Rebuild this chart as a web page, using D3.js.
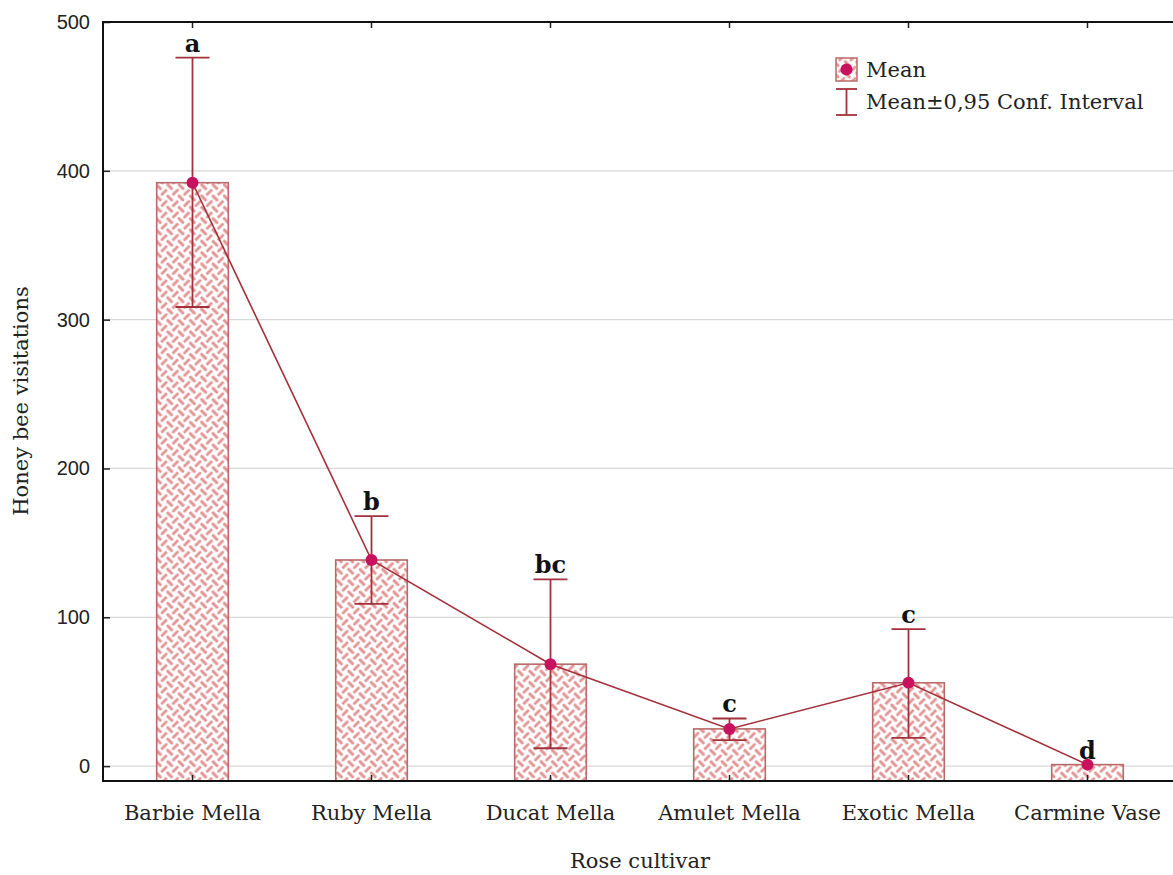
<!DOCTYPE html>
<html>
<head>
<meta charset="utf-8">
<script src="https://cdn.jsdelivr.net/npm/d3@7"></script>
<style>
  body { margin: 0; background: #fff; }
  svg { display: block; }
</style>
</head>
<body>
<div id="chart"></div>
<script>
// values
const cultivars = ["Barbie Mella", "Ruby Mella", "Ducat Mella", "Amulet Mella", "Exotic Mella", "Carmine Vase"];
const means = [392, 138.5, 68.5, 25, 56, 1];
const ciLow = [308.5, 109, 12, 17.5, 19, 1];
const ciHigh = [476, 168, 125.5, 32, 92, 1];
const groups = ["a", "b", "bc", "c", "c", "d"];
const yTicks = [0, 100, 200, 300, 400, 500];

const width = 1173, height = 875;
const margin = { left: 103, top: 22, right: -4, bottom: 94 };

const svg = d3.select("#chart").append("svg")
    .attr("width", width)
    .attr("height", height);

// basket weave fill used for the bars (rotated so dashes run diagonally)
const defs = svg.append("defs");
const pat = defs.append("pattern")
    .attr("id", "weave")
    .attr("patternUnits", "userSpaceOnUse")
    .attr("width", 16).attr("height", 16)
    .attr("patternTransform", "rotate(45)");
pat.append("rect").attr("width", 16).attr("height", 16).attr("fill", "#fff");
// one dash per cell: horizontal, vertical / vertical, horizontal
const dashes = [
    [1, 4, 7, 4], [12, 1, 12, 7],
    [4, 9, 4, 15], [9, 12, 15, 12]
];
pat.selectAll("line").data(dashes).enter().append("line")
    .attr("x1", d => d[0]).attr("y1", d => d[1])
    .attr("x2", d => d[2]).attr("y2", d => d[3])
    .attr("stroke", "#e29494")
    .attr("stroke-width", 2.8)
    .attr("stroke-linecap", "round");

const x = d3.scaleBand()
    .domain(cultivars)
    .range([margin.left, width - margin.right])
    .paddingInner(0.6).paddingOuter(0.3);

const xc = d => x(d) + x.bandwidth() / 2;

const y = d3.scaleLinear()
    .domain([-10, 500])
    .range([height - margin.bottom, margin.top]);

const lineCol = "#a3303a";
const dotCol = "#c8125e";
const serif = "'DejaVu Serif', 'Liberation Serif', serif";
const fs = 21;

// grid
svg.append("g").selectAll("line")
    .data(yTicks.filter(t => t < 500))
    .enter().append("line")
    .attr("x1", margin.left).attr("x2", width)
    .attr("y1", d => y(d)).attr("y2", d => y(d))
    .attr("stroke", "#d8d8d8").attr("stroke-width", 1.2);

// y axis
const yAxis = svg.append("g")
    .attr("transform", `translate(${margin.left},0)`)
    .call(d3.axisLeft(y).tickValues(yTicks).tickSize(-7).tickPadding(13));
yAxis.select(".domain").remove();
yAxis.selectAll("text")
    .attr("font-family", "'Liberation Sans', Arial, sans-serif")
    .attr("font-size", 20)
    .attr("fill", "#222");
yAxis.selectAll("line").attr("stroke", "#222").attr("stroke-width", 1.5);

// bars
svg.append("g").selectAll("rect")
    .data(cultivars)
    .enter().append("rect")
    .attr("x", d => x(d))
    .attr("width", x.bandwidth())
    .attr("y", (d, i) => y(means[i]))
    .attr("height", (d, i) => y(-10) - y(means[i]))
    .attr("fill", "url(#weave)")
    .attr("stroke", "#b86a6a")
    .attr("stroke-width", 1.6);

// x axis
const xAxis = svg.append("g")
    .attr("transform", `translate(0,${y(-10)})`)
    .call(d3.axisBottom(x).tickSize(-6).tickPadding(24));
xAxis.select(".domain").remove();
xAxis.selectAll("text")
    .attr("font-family", serif)
    .attr("font-size", fs)
    .attr("fill", "#222");
xAxis.selectAll("line").attr("stroke", "#222").attr("stroke-width", 1.5);

// top ticks
const topAxis = svg.append("g")
    .attr("transform", `translate(0,${margin.top})`)
    .call(d3.axisTop(x).tickSize(-6).tickFormat(""));
topAxis.select(".domain").remove();
topAxis.selectAll("line").attr("stroke", "#222").attr("stroke-width", 1.5);

// frame
svg.append("path")
    .attr("d", `M${width},${margin.top}H${margin.left}V${y(-10)}H${width}`)
    .attr("fill", "none")
    .attr("stroke", "#111")
    .attr("stroke-width", 2);

// error bars
const cap = 17;
const eb = svg.append("g").attr("stroke", lineCol).attr("stroke-width", 1.8);
cultivars.forEach((c, i) => {
    if (ciHigh[i] - ciLow[i] < 1) return;
    eb.append("line").attr("x1", xc(c)).attr("x2", xc(c))
        .attr("y1", y(ciLow[i])).attr("y2", y(ciHigh[i]));
    eb.append("line").attr("x1", xc(c) - cap).attr("x2", xc(c) + cap)
        .attr("y1", y(ciLow[i])).attr("y2", y(ciLow[i]));
    eb.append("line").attr("x1", xc(c) - cap).attr("x2", xc(c) + cap)
        .attr("y1", y(ciHigh[i])).attr("y2", y(ciHigh[i]));
});

// mean line + dots
svg.append("path")
    .datum(cultivars)
    .attr("d", d3.line().x(d => xc(d)).y((d, i) => y(means[i])))
    .attr("fill", "none")
    .attr("stroke", lineCol)
    .attr("stroke-width", 1.6);

svg.append("g").selectAll("circle")
    .data(cultivars)
    .enter().append("circle")
    .attr("cx", d => xc(d))
    .attr("cy", (d, i) => y(means[i]))
    .attr("r", 6)
    .attr("fill", dotCol);

// group letters
svg.append("g").selectAll("text")
    .data(cultivars)
    .enter().append("text")
    .attr("x", d => xc(d))
    .attr("y", (d, i) => y(Math.max(ciHigh[i], means[i])) - 6)
    .attr("text-anchor", "middle")
    .attr("font-family", serif)
    .attr("font-weight", "bold")
    .attr("font-size", 24)
    .attr("fill", "#111")
    .text((d, i) => groups[i]);

// axis titles
svg.append("text")
    .attr("x", 640).attr("y", 868)
    .attr("text-anchor", "middle")
    .attr("font-family", serif)
    .attr("font-size", fs)
    .attr("fill", "#222")
    .text("Rose cultivar");

svg.append("text")
    .attr("transform", "translate(28,401) rotate(-90)")
    .attr("text-anchor", "middle")
    .attr("font-family", serif)
    .attr("font-size", fs)
    .attr("fill", "#222")
    .text("Honey bee visitations");

// legend
const lg = svg.append("g").attr("transform", "translate(836,58)");
lg.append("rect").attr("width", 21).attr("height", 23)
    .attr("fill", "url(#weave)").attr("stroke", "#b86a6a").attr("stroke-width", 1.5);
lg.append("circle").attr("cx", 10.5).attr("cy", 11.5).attr("r", 6).attr("fill", dotCol);
lg.append("text").attr("x", 30).attr("y", 19)
    .attr("font-family", serif).attr("font-size", fs).attr("fill", "#222")
    .text("Mean");
const le = lg.append("g").attr("stroke", lineCol).attr("stroke-width", 1.8);
le.append("line").attr("x1", 10.5).attr("x2", 10.5).attr("y1", 31).attr("y2", 57);
le.append("line").attr("x1", 0).attr("x2", 21).attr("y1", 31).attr("y2", 31);
le.append("line").attr("x1", 0).attr("x2", 21).attr("y1", 57).attr("y2", 57);
lg.append("text").attr("x", 30).attr("y", 51)
    .attr("font-family", serif).attr("font-size", fs).attr("fill", "#222")
    .text("Mean±0,95 Conf. Interval");
</script>
</body>
</html>
